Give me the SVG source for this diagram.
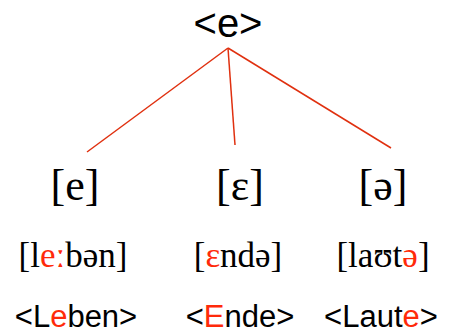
<svg xmlns="http://www.w3.org/2000/svg" width="450" height="334" viewBox="0 0 450 334">
<style>
.s{font-family:"Liberation Sans","Open Sans",sans-serif;fill:#000;text-anchor:middle}
.p{font-family:"Liberation Serif","DejaVu Serif",serif;fill:#000;text-anchor:middle}
.r{fill:#ff2a0a}
.c{stroke:#e0300f;stroke-width:1.5;fill:none}
</style>
<rect width="450" height="334" fill="#fff"/>
<g id="connectors">
<line class="c" x1="228" y1="48" x2="87" y2="152"/>
<line class="c" x1="228" y1="48" x2="235" y2="145"/>
<line class="c" x1="228" y1="48" x2="391" y2="148"/>
</g>
<g id="root"><text class="s" x="228" y="36.5" font-size="40">&lt;e&gt;</text></g>
<g id="e">
<text class="p" x="75" y="200" font-size="44">[e]</text>
<text class="p" x="73" y="267" font-size="35">[l<tspan class="r">eː</tspan>bən]</text>
<text class="s" x="76" y="327" font-size="31">&lt;L<tspan class="r">e</tspan>ben&gt;</text>
</g>
<g id="epsilon">
<text class="p" x="240" y="200" font-size="44">[ɛ]</text>
<text class="p" x="238" y="267" font-size="35">[<tspan class="r">ɛ</tspan>ndə]</text>
<text class="s" x="240" y="327" font-size="31">&lt;<tspan class="r">E</tspan>nde&gt;</text>
</g>
<g id="schwa">
<text class="p" x="383" y="200" font-size="44">[ə]</text>
<text class="p" x="383" y="267" font-size="35">[laʊt<tspan class="r">ə</tspan>]</text>
<text class="s" x="381" y="327" font-size="31">&lt;Laut<tspan class="r">e</tspan>&gt;</text>
</g>
</svg>
